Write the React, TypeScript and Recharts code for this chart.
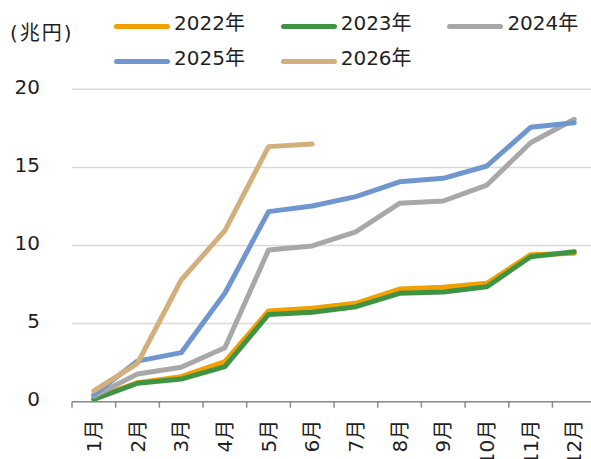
import React from 'react';
import { LineChart, Line, XAxis, YAxis, CartesianGrid } from 'recharts';

// Cumulative monthly amounts (trillion yen)
const months = ['1月', '2月', '3月', '4月', '5月', '6月', '7月', '8月', '9月', '10月', '11月', '12月'];
const s2022 = [0.2, 1.22, 1.6, 2.56, 5.81, 5.98, 6.3, 7.21, 7.32, 7.58, 9.41, 9.5];
const s2023 = [0.15, 1.18, 1.45, 2.24, 5.59, 5.72, 6.08, 6.94, 7.02, 7.36, 9.28, 9.6];
const s2024 = [0.35, 1.77, 2.2, 3.46, 9.71, 9.97, 10.88, 12.7, 12.85, 13.87, 16.58, 18.08];
const s2025 = [0.45, 2.6, 3.14, 6.94, 12.17, 12.53, 13.13, 14.08, 14.3, 15.09, 17.57, 17.86];
const s2026 = [0.7, 2.46, 7.79, 10.95, 16.33, 16.5, null, null, null, null, null, null];
const yTicks = [0, 5, 10, 15, 20];

const series = [
  { key: 'y2022', name: '2022年', color: '#F2A000', values: s2022 },
  { key: 'y2023', name: '2023年', color: '#3F9444', values: s2023 },
  { key: 'y2024', name: '2024年', color: '#A8A8A8', values: s2024 },
  { key: 'y2025', name: '2025年', color: '#7096CF', values: s2025 },
  { key: 'y2026', name: '2026年', color: '#D3AF7C', values: s2026 },
];

const data = months.map((m, i) => {
  const row: Record<string, string | number | null> = { month: m };
  series.forEach((s) => {
    row[s.key] = s.values[i];
  });
  return row;
});

const FONT = "'DejaVu Sans', 'Noto Sans CJK JP', sans-serif";
const TEXT = '#1f1f1f';
const AXIS = '#8C8C8C';

const CHART_W = 600;
const CHART_H = 459;
const Y_AXIS_W = 72;
const MARGIN = { top: 89.3, right: 3.9, bottom: 0, left: 0 };
const X_AXIS_H = 57.3;
const BAND = (CHART_W - Y_AXIS_W - MARGIN.right - MARGIN.left) / months.length;

const XTick = (props: any) => {
  const { x, y, payload, index } = props;
  const axisY = y - 8;
  const half = BAND / 2;
  const ty = y + 10;
  return (
    <g>
      <line x1={x - half} x2={x - half} y1={axisY} y2={axisY + 6} stroke={AXIS} strokeWidth={1.5} />
      {index === months.length - 1 && (
        <line x1={x + half} x2={x + half} y1={axisY} y2={axisY + 6} stroke={AXIS} strokeWidth={1.5} />
      )}
      <text
        x={x}
        y={ty}
        dy={7}
        textAnchor="end"
        transform={`rotate(-90, ${x}, ${ty})`}
        fontSize={20}
        fontFamily={FONT}
        fill={TEXT}
      >
        {payload.value}
      </text>
    </g>
  );
};

const YTick = (props: any) => {
  const { y, payload } = props;
  return (
    <text x={40} y={y + 4.3} textAnchor="end" fontSize={20} fontFamily={FONT} fill={TEXT}>
      {payload.value}
    </text>
  );
};

export default function App() {
  return (
    <div
      style={{
        position: 'absolute',
        left: 0,
        top: 0,
        width: 591,
        height: 459,
        overflow: 'hidden',
        background: '#fff',
        fontFamily: FONT,
        color: TEXT,
      }}
    >
      <div
        style={{
          position: 'absolute',
          left: 10,
          top: 22,
          height: 22,
          lineHeight: '22px',
          fontSize: 20,
          letterSpacing: 2,
          whiteSpace: 'nowrap',
        }}
      >
        (兆円)
      </div>

      <div
        style={{
          position: 'absolute',
          left: 114,
          top: 9.2,
          width: 510,
          display: 'flex',
          flexWrap: 'wrap',
          zIndex: 2,
        }}
      >
        {series.map((s) => (
          <div
            key={s.key}
            style={{ width: 166.7, height: 35, display: 'flex', alignItems: 'center' }}
          >
            <div style={{ width: 56, height: 5, borderRadius: 2.5, background: s.color }} />
            <span
              style={{
                marginLeft: 4,
                fontSize: 20,
                lineHeight: '35px',
                position: 'relative',
                top: -3,
                whiteSpace: 'nowrap',
              }}
            >
              {s.name}
            </span>
          </div>
        ))}
      </div>

      <LineChart width={CHART_W} height={CHART_H} data={data} margin={MARGIN}>
        <CartesianGrid vertical={false} stroke="#D9D9D9" strokeWidth={1.5} />
        <XAxis
          dataKey="month"
          height={X_AXIS_H}
          interval={0}
          padding={{ left: BAND / 2, right: BAND / 2 }}
          axisLine={{ stroke: AXIS, strokeWidth: 1.5 }}
          tickLine={false}
          tick={<XTick />}
        />
        <YAxis
          width={Y_AXIS_W}
          domain={[0, 20]}
          ticks={yTicks}
          axisLine={false}
          tickLine={false}
          tick={<YTick />}
        />
        {series.map((s) => (
          <Line
            key={s.key}
            type="linear"
            dataKey={s.key}
            name={s.name}
            stroke={s.color}
            strokeWidth={5}
            strokeLinecap="round"
            strokeLinejoin="round"
            dot={false}
            activeDot={false}
            isAnimationActive={false}
          />
        ))}
      </LineChart>
    </div>
  );
}
